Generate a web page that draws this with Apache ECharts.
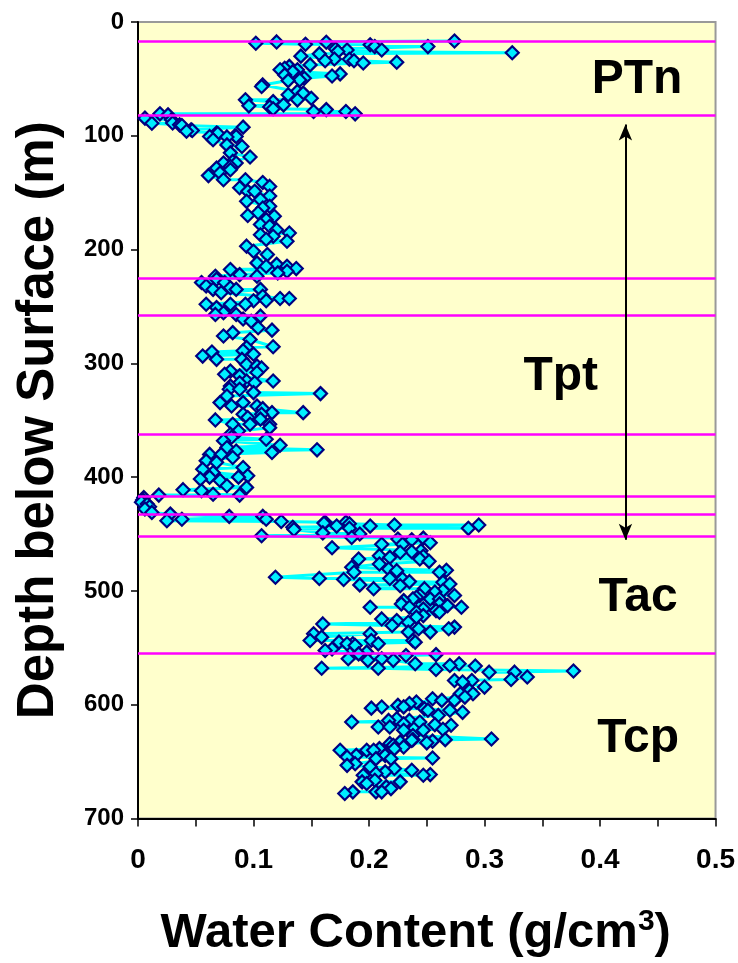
<!DOCTYPE html>
<html>
<head>
<meta charset="utf-8">
<script src="https://cdn.jsdelivr.net/npm/echarts@6/dist/echarts.min.js"></script>
<style>
html,body{margin:0;padding:0;background:#fff;}
#chart{width:738px;height:963px;}
</style>
</head>
<body>
<div id="chart"></div>
<script>
// Depth below surface (m) of each sample, in borehole order
var depth = [
16.7,17.5,17.8,18.7,19.6,20,21.6,21.6,23.7,24.6,24.6,26,27,28,30,32.5,32.7,34,34,35.4,36,37.7,39,40.6,42,42,43.6,45.6,46.5,47.4,49.4,51,51.5,55.3,56.7,61,62.5,64,67,68.4,68.4,70,72.8,73.7,74.6,76.3,77,78.7,78.7,80.7,
80.7,81.6,84.5,86,88.8,89,90.4,91,92.4,94.7,95.3,96,97.6,98,100,100.6,100.6,101,103.5,108,109.4,115,118.6,122.5,124,124,127,128.4,129.8,132.7,135,138.6,138.6,141,144.5,145.7,148.8,148.8,153,156,157.6,162,163.5,167.7,170,170.8,173.7,178,179.5,182.5,
185.4,187,188.3,191,192.7,197,201.5,204.4,211.7,213,214.6,214.6,216.7,217.5,219,220.5,222,223.4,223.4,226,229,229,232,233.6,235,235,235,238,241,243,243,245,245,248,248,248,251,255.5,257,257,258.5,261,263,268.7,270.8,273,276,279,285.4,286,
289,290,292,293.6,296.5,296.5,301,302.4,304,306.8,308,309.6,311,315.5,315.5,317,317,320,322.8,322.8,325.7,326.6,328.7,334.5,334.5,337.5,337.5,339.8,343.3,343.3,344.7,344.7,347.6,349,349.7,353.5,353.5,353.5,356.5,359.4,362.3,365,366.7,368,372,374,376,377,378.4,380,
380,382.7,385.7,387,391.5,393,396,398.8,400,400,401.7,403,407.6,409,411,412,415,415.8,415.8,418,420,422,423.7,426,428,431,432.5,434.5,434.5,437,437,438.3,439,439.7,439.7,440.4,441,442,442,443,443,444,445,445,446,449,450,451.5,453,453.6,454.4,455,
457.6,459,459,462,464.7,465.5,466,469,469.5,470.5,472,472,474,476.3,479.2,480.7,481.8,482.2,483.6,483.6,488,489,489,489.5,490,491.8,492.4,493.9,494.7,495.4,498,498,499.7,501,504,504,505.5,507,507,507,508.5,511.4,511.4,512.9,514.3,514.3,514.3,515.8,517.3,518.7,
518.7,521.7,523,524.6,526,527.5,529,530.4,531.8,533.3,533.3,536.2,536.2,537.7,537.7,540.6,543.6,543.6,543.6,545,545,546.5,546.5,546.5,548,551,552.4,553.8,555.3,556,556.7,559.6,559.6,561,561,564,564,565.5,566,568,568,569,570.4,571.4,571.4,575.7,577.8,578.7,578.7,580,
584.5,587.4,590.4,590.4,593.3,594.7,596.2,596.2,597.6,599,600.6,601.9,602,603,603.5,604.8,604.8,606.7,609.4,612.3,613.8,613.8,615.2,615.2,616.7,617.5,618,619.6,619.6,621.6,622.5,622.5,627,630.1,630.7,630.7,631.3,632,632.7,633.5,634.2,635.7,637.1,638.6,638.6,640,640,640,644.5,644.5,
646,646.8,647.4,647.4,651.8,653.3,654.6,656,657.6,659,660.5,661.4,662,662,666.4,667.8,667.8,669.3,672.2,673.7,676.6,676.6,676.6,678
];
// Water content (g/cm3) of each sample, same order as depth
var water = [
.274,.120,.163,.102,.145,.201,.205,.251,.171,.211,.181,.173,.324,.157,.141,.170,.183,.162,.187,.224,.195,.149,.131,.127,.123,.138,.134,.175,.127,.168,.144,.140,.130,.108,.107,.138,.143,.130,.150,.138,.093,.117,.126,.096,.114,.117,.163,.152,.180,.188,
.019,.026,.006,.029,.030,.012,.036,.038,.091,.046,.047,.042,.068,.069,.084,.062,.085,.077,.065,.077,.090,.080,.097,.082,.074,.085,.080,.068,.080,.071,.061,.074,.093,.108,.114,.088,.095,.101,.114,.106,.094,.114,.108,.104,.095,.118,.111,.106,.114,.120,
.131,.106,.117,.111,.129,.094,.100,.112,.103,.120,.129,.111,.137,.080,.129,.121,.088,.067,.103,.068,.055,.075,.059,.080,.065,.085,.106,.072,.108,.123,.131,.100,.111,.059,.080,.093,.068,.074,.067,.085,.106,.091,.098,.104,.116,.082,.074,.097,.117,.094,
.091,.064,.100,.056,.068,.090,.094,.103,.107,.080,.103,.075,.088,.117,.094,.088,.101,.080,.079,.088,.100,.158,.077,.071,.091,.081,.103,.108,.143,.116,.091,.107,.095,.106,.067,.082,.097,.114,.114,.087,.080,.081,.111,.074,.123,.077,.155,.085,.116,.062,
.072,.082,.059,.068,.091,.056,.065,.095,.062,.087,.054,.071,.077,.094,.039,.055,.065,.088,.018,.005,.004,.003,.008,.010,.006,.012,.028,.079,.108,.038,.111,.025,.124,.162,.180,.161,.183,.222,.295,.172,.201,.134,.286,.183,.135,.160,.192,.107,.185,.247,.225,.237,
.253,.211,.229,.168,.245,.237,.227,.209,.247,.218,.191,.244,.252,.209,.185,.217,.267,.224,.261,.187,.119,.157,.218,.229,.178,.235,.264,.270,.192,.227,.204,.248,.264,.257,.274,.244,.241,.253,.238,.261,.230,.261,.228,.268,.280,.201,.235,.247,.258,.241,
.261,.247,.241,.211,.224,.234,.160,.220,.274,.243,.269,.253,.234,.152,.201,.159,.149,.238,.202,.174,.240,.186,.208,.181,.188,.168,.162,.198,.191,.258,.232,.182,.211,.199,.221,.240,.278,.270,.292,.159,.208,.258,.377,.304,.326,.337,.323,.274,.289,.281,
.300,.287,.279,.290,.283,.255,.274,.263,.241,.235,.225,.230,.211,.202,.248,.270,.251,.281,.260,.224,.217,.235,.185,.244,.230,.257,.271,.208,.218,.264,.230,.247,.238,.306,.266,.238,.237,.255,.227,.250,.218,.221,.230,.222,.209,.175,.198,.204,.189,.214,
.181,.255,.206,.219,.188,.181,.201,.222,.237,.214,.206,.253,.247,.195,.205,.194,.227,.198,.215,.219,.206,.211,.186,.179
];
// Unit boundary depths (m), drawn as magenta lines
var boundaries = [17, 82, 225, 258, 362, 417, 433, 452, 555];
// Unit labels and their anchor in data space
var zoneNames = ['PTn', 'Tpt', 'Tac', 'Tcp'];
var zoneWater = [0.432, 0.366, 0.433, 0.433];
var zoneDepth = [51, 312, 506, 630];
// Double arrow extent (water value, top depth, bottom depth)
var arrowWater = 0.422;
var arrowDepth = [90, 455];

var FONT = '"Liberation Sans", Arial, Helvetica, sans-serif';

var points = depth.map(function (d, i) { return [water[i], d]; });
var labelPts = zoneNames.map(function (n, i) { return [zoneWater[i], zoneDepth[i], n]; });

var chart = echarts.init(document.getElementById('chart'), null, {renderer: 'canvas'});
chart.setOption({
  animation: false,
  backgroundColor: '#ffffff',
  grid: {
    left: 138, right: 22, top: 22, bottom: 143,
    show: true, backgroundColor: '#FFFFCC', borderColor: '#999999', borderWidth: 2
  },
  xAxis: {
    type: 'value', min: 0, max: 0.5, interval: 0.05,
    name: 'Water Content (g/cm{sup|3})',
    nameLocation: 'middle', nameGap: 88,
    nameTextStyle: {
      fontFamily: FONT, fontWeight: 'bold', fontSize: 49, color: '#000',
      padding: [0, 22, 0, 0],
      rich: { sup: { fontFamily: FONT, fontWeight: 'bold', fontSize: 30, color: '#000', verticalAlign: 'top', padding: [0, 0, 24, 0] } }
    },
    axisLine: { onZero: false, lineStyle: { color: '#000', width: 2 } },
    axisTick: { show: true, length: 8, lineStyle: { color: '#000', width: 1.5 } },
    axisLabel: {
      margin: 28, fontFamily: FONT, fontWeight: 'bold', fontSize: 28, color: '#000',
      formatter: function (v) {
        var k = Math.round(v * 100);
        if (k % 10 !== 0) return '';
        return k === 0 ? '0' : (k / 100).toString();
      }
    },
    splitLine: { show: false }
  },
  yAxis: {
    type: 'value', inverse: true, min: 0, max: 700, interval: 100,
    name: 'Depth below Surface (m)',
    nameLocation: 'middle', nameRotate: 90, nameGap: 74,
    nameTextStyle: { fontFamily: FONT, fontWeight: 'bold', fontSize: 51, color: '#000' },
    axisLine: { onZero: false, lineStyle: { color: '#000', width: 2 } },
    axisTick: { show: true, length: 7, lineStyle: { color: '#000', width: 1.5 } },
    axisLabel: { margin: 14, fontFamily: FONT, fontWeight: 'bold', fontSize: 24, color: '#000' },
    splitLine: { show: false }
  },
  series: [
    {
      type: 'line', data: [], z: 1,
      markLine: {
        silent: true, symbol: ['none', 'none'],
        label: { show: false },
        lineStyle: { color: '#FF00FF', width: 2.5, type: 'solid' },
        data: boundaries.map(function (b) { return { yAxis: b }; })
      }
    },
    {
      type: 'line', data: points, z: 3,
      symbol: 'diamond', symbolSize: 13,
      lineStyle: { color: '#00FFFF', width: 3 },
      itemStyle: { color: '#00EEFF', borderColor: '#000080', borderWidth: 2.2 }
    },
    {
      type: 'line', data: [], z: 4,
      markLine: {
        silent: true, symbol: ['arrow', 'arrow'], symbolSize: [10, 16],
        label: { show: false },
        lineStyle: { color: '#000', width: 2, type: 'solid' },
        data: [[{ coord: [arrowWater, arrowDepth[0]] }, { coord: [arrowWater, arrowDepth[1]] }]]
      }
    },
    {
      type: 'scatter', data: labelPts, z: 5,
      symbolSize: 1,
      itemStyle: { opacity: 0 },
      label: {
        show: true, position: 'inside', opacity: 1,
        formatter: function (p) { return p.data[2]; },
        fontFamily: FONT, fontWeight: 'bold', fontSize: 48, color: '#000000',
        textBorderWidth: 0
      }
    }
  ]
});
</script>
</body>
</html>
